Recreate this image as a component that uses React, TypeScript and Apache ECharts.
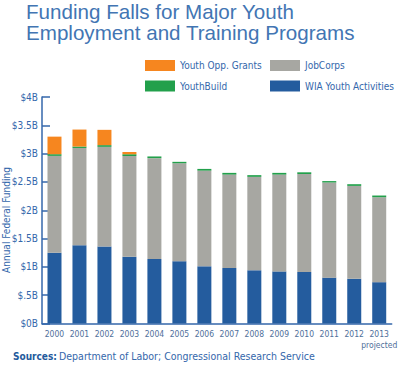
import React, { useEffect, useRef } from "react";
import * as echarts from "echarts";

const years = ["2000","2001","2002","2003","2004","2005","2006","2007","2008","2009","2010","2011","2012","2013"];
const wiaYouth = [1.25,1.38,1.36,1.18,1.14,1.10,1.01,0.98,0.94,0.92,0.91,0.81,0.79,0.73];
const jobCorps = [1.71,1.72,1.76,1.78,1.78,1.73,1.69,1.65,1.65,1.71,1.73,1.68,1.64,1.50];
const youthBuild = [0.03,0.025,0.03,0.03,0.03,0.025,0.03,0.03,0.03,0.03,0.03,0.025,0.03,0.03];
const youthOpp = [0.31,0.30,0.27,0.04,0,0,0,0,0,0,0,0,0,0];
const yTicks: Record<string,string> = {"0":"$0B","0.5":"$.5B","1":"$1B","1.5":"$1.5B","2":"$2B","2.5":"$2.5B","3":"$3B","3.5":"$3.5B","4":"$4B"};

const BLUE_TXT = "#3467AB";
const NARROW = "'DejaVu Sans Condensed', 'Liberation Sans Narrow', Roboto, sans-serif";

export default function App() {
  const ref = useRef<HTMLDivElement>(null);
  useEffect(() => {
    const chart = echarts.init(ref.current!, null, { renderer: "svg" });
    const legendText = { color: BLUE_TXT, fontSize: 10, fontFamily: NARROW };
    chart.setOption({
      animation: false,
      title: {
        text: "Funding Falls for Major Youth\nEmployment and Training Programs",
        left: 21, top: -4,
        textStyle: { color: "#4275B3", fontSize: 20.6, fontWeight: "normal", lineHeight: 21, fontFamily: "'Liberation Sans', Arial, sans-serif" },
      },
      legend: [
        { data: ["Youth Opp. Grants", "YouthBuild"], orient: "vertical", left: 140, top: 55, itemWidth: 30, itemHeight: 11, itemGap: 9.5, icon: "rect", textStyle: legendText, selectedMode: false },
        { data: ["JobCorps", "WIA Youth Activities"], orient: "vertical", left: 265, top: 55, itemWidth: 30, itemHeight: 11, itemGap: 9.5, icon: "rect", textStyle: legendText, selectedMode: false },
      ],
      grid: { left: 42, right: 1, top: 97, bottom: 52.5, containLabel: false },
      xAxis: {
        type: "category", data: years,
        axisLine: { lineStyle: { color: "#3467AB", width: 1.5 } },
        axisTick: { show: false },
        axisLabel: {
          color: "#4F6F9A", fontSize: 8.5, fontFamily: NARROW, margin: 5, lineHeight: 11, interval: 0,
          formatter: (v: string) => (v === "2013" ? "2013\nprojected" : v),
        },
      },
      yAxis: {
        type: "value", min: 0, max: 4, interval: 0.5,
        axisLine: { show: true, lineStyle: { color: "#3467AB", width: 1.5 } },
        axisTick: { show: true, inside: true, length: 8, lineStyle: { color: "#3467AB", width: 1.5 } },
        splitLine: { show: false },
        axisLabel: { color: BLUE_TXT, fontSize: 10, fontFamily: NARROW, margin: 4, formatter: (v: number) => yTicks[String(v)] ?? "" },
      },
      graphic: [
        { type: "text", x: 6, y: 220, rotation: Math.PI / 2, style: { text: "Annual Federal Funding", fill: BLUE_TXT, font: `10px ${NARROW}`, textAlign: "center", textVerticalAlign: "middle" } },
        { type: "text", x: 13, y: 356, style: { text: "Sources:", fill: "#235A9C", font: `bold 10px ${NARROW}`, textVerticalAlign: "middle" } },
        { type: "text", x: 59, y: 356, style: { text: "Department of Labor; Congressional Research Service", fill: BLUE_TXT, font: `10.5px ${NARROW}`, textVerticalAlign: "middle" } },
      ],
      series: [
        { name: "WIA Youth Activities", type: "bar", stack: "t", data: wiaYouth, barWidth: 14, itemStyle: { color: "#245C9E" } },
        { name: "JobCorps", type: "bar", stack: "t", data: jobCorps, itemStyle: { color: "#A7A7A2" } },
        { name: "YouthBuild", type: "bar", stack: "t", data: youthBuild, itemStyle: { color: "#22A04B" } },
        { name: "Youth Opp. Grants", type: "bar", stack: "t", data: youthOpp, itemStyle: { color: "#F6861F" } },
      ],
    });
    return () => chart.dispose();
  }, []);
  return <div ref={ref} style={{ width: 400, height: 376, position: "absolute", left: 0, top: 0 }} />;
}
